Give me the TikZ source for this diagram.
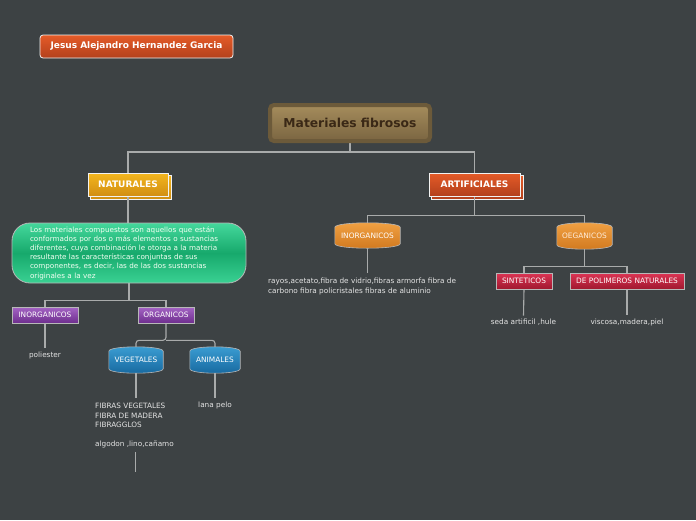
\documentclass[tikz,border=0pt]{standalone}
\usepackage{fontspec}
\setmainfont{DejaVu Sans}
\usetikzlibrary{calc,backgrounds}
\definecolor{bg}{HTML}{3D4244}
\definecolor{wire}{HTML}{A9ABAB}
\definecolor{edge}{HTML}{B8B8B8}
\definecolor{txt}{HTML}{E4E4E4}
\definecolor{redT}{HTML}{E55B28}
\definecolor{redB}{HTML}{B3401C}
\definecolor{brOut}{HTML}{6C5A3A}
\definecolor{brT}{HTML}{A58C5C}
\definecolor{brB}{HTML}{7A6541}
\definecolor{brTxt}{HTML}{3A2816}
\definecolor{goldT}{HTML}{F4B61E}
\definecolor{goldB}{HTML}{D18E12}
\definecolor{grT}{HTML}{44D89C}
\definecolor{grM}{HTML}{17A96C}
\definecolor{grB}{HTML}{3AD193}
\definecolor{puT}{HTML}{A464C4}
\definecolor{puB}{HTML}{6E2E8E}
\definecolor{blT}{HTML}{3C9FD4}
\definecolor{blB}{HTML}{16679E}
\definecolor{orT}{HTML}{F2A244}
\definecolor{orB}{HTML}{D0781E}
\definecolor{crT}{HTML}{DC3454}
\definecolor{crB}{HTML}{A0182F}
\newcommand\barrelshape[3]{%
  \begin{scope}[on background layer]
  \path[draw=edge, line width=0.6pt, top color=#2, bottom color=#3]
    ($(#1.north west)+(0,-4.5pt)$) .. controls ($(#1.north west)+(0,1.5pt)$) and ($(#1.north east)+(0,1.5pt)$) .. ($(#1.north east)+(0,-4.5pt)$)
    -- ($(#1.south east)+(0,4.5pt)$) .. controls ($(#1.south east)+(0,-1.5pt)$) and ($(#1.south west)+(0,-1.5pt)$) .. ($(#1.south west)+(0,4.5pt)$) -- cycle;
  \end{scope}}
\newcommand\shadowbox[3]{%
  \begin{scope}[on background layer]
  \path[draw=white!90!gray, line width=0.7pt, top color=#2, bottom color=#3]
    ($(#1.north west)+(2.5pt,-2.5pt)$) rectangle ($(#1.south east)+(2.5pt,-2.5pt)$);
  \end{scope}}
\begin{document}
\begin{tikzpicture}[x=1pt,y=-1pt,
  wirestyle/.style={draw=wire, line width=1.1pt},
  bigbox/.style={draw=white!90!gray, line width=0.8pt, text=white, font=\bfseries\fontsize{9}{10}\selectfont, inner sep=0pt},
  smallbox/.style={draw=edge, line width=0.6pt, text=white, font=\fontsize{7.4}{8}\selectfont, inner sep=0pt, minimum height=16pt},
  barrel/.style={text=white, font=\fontsize{7.4}{8}\selectfont, inner sep=0pt},
  plain/.style={text=txt, font=\fontsize{7.3}{9.6}\selectfont, inner sep=3pt, align=left}
]
\begin{scope}[on background layer]
\fill[bg] (0,0) rectangle (696,520);
\end{scope}
\useasboundingbox (0,0) rectangle (696,520);

% title nodes
\node[bigbox, rounded corners=3pt, top color=redT, bottom color=redB, minimum width=193pt, minimum height=23pt] (author) at (136.5,46.5) {Jesus Alejandro Hernandez Garcia};
\node[draw=brOut, line width=4pt, rounded corners=4pt, top color=brT, bottom color=brB, text=brTxt, font=\bfseries\fontsize{12.3}{14}\selectfont, minimum width=160pt, minimum height=36pt] (main) at (350,123) {Materiales fibrosos};

\node[bigbox, top color=goldT, bottom color=goldB, minimum width=80pt, minimum height=23pt] (nat) at (128,184.5) {NATURALES};
\shadowbox{nat}{goldT}{goldB}
\node[bigbox, top color=redT, bottom color=redB, minimum width=91pt, minimum height=23pt] (art) at (474.5,184.5) {ARTIFICIALES};
\shadowbox{art}{redT}{redB}

% left branch
\node[draw=edge, line width=0.8pt, rounded corners=18pt, top color=grT, bottom color=grB, middle color=grM, text=white!95!green, font=\fontsize{7.2}{9.2}\selectfont, align=left, text width=198pt, minimum width=234pt, minimum height=60pt, inner sep=0pt] (comp) at (129,253) {Los materiales compuestos son aquellos que están\\conformados por dos o más elementos o sustancias\\diferentes, cuya combinación le otorga a la materia\\resultante las características conjuntas de sus\\componentes, es decir, las de las dos sustancias\\originales a la vez};

\node[smallbox, top color=puT, bottom color=puB, minimum width=66pt] (inorgA) at (45,315) {INORGANICOS};
\node[smallbox, top color=puT, bottom color=puB, minimum width=56pt] (orgA) at (166,315) {ORGANICOS};
\node[plain] (poli) at (45,355) {poliester};

\node[barrel, minimum width=54pt, minimum height=26pt] (veg) at (136,360) {VEGETALES};
\barrelshape{veg}{blT}{blB}
\node[barrel, minimum width=50pt, minimum height=26pt] (ani) at (215,360) {ANIMALES};
\barrelshape{ani}{blT}{blB}

\node[plain, anchor=north west, inner sep=0pt] (vegtxt) at (95,403) {FIBRAS VEGETALES\\FIBRA DE MADERA\\FIBRAGGLOS\\[9pt]algodon ,lino,cañamo};
\node[plain] (lana) at (215,405) {lana pelo};
\coordinate (vegend) at (135.5,472);
\coordinate (vegtop) at (135.5,398);

% right branch
\node[barrel, minimum width=65pt, minimum height=25pt] (inorgB) at (367.5,235.5) {INORGANICOS};
\barrelshape{inorgB}{orT}{orB}
\node[barrel, minimum width=55pt, minimum height=26pt, text=white!85!orange] (oeg) at (584.5,236) {OEGANICOS};
\barrelshape{oeg}{orT}{orB}
\node[plain, anchor=north west, inner sep=0pt] (rayos) at (268,278) {rayos,acetato,fibra de vidrio,fibras armorfa fibra de\\carbono fibra policristales fibras de aluminio};
\coordinate (rayostop) at (367.5,273);

\node[smallbox, top color=crT, bottom color=crB, minimum width=56pt] (sint) at (524,281) {SINTETICOS};
\node[smallbox, top color=crT, bottom color=crB, minimum width=114pt] (polin) at (627,281) {DE POLIMEROS NATURALES};
\node[plain] (seda) at (523.5,322) {seda artificil ,hule};
\node[plain] (visc) at (627,322) {viscosa,madera,piel};

% connectors
\begin{scope}[on background layer]
\draw[wirestyle] (main.south) -- ($(main.south)+(0,9)$) -| (nat.north);
\draw[wirestyle] ($(main.south)+(0,9)$) -| (art.north);
\draw[wirestyle] (nat.south) -- (nat.south |- comp.north);
\draw[wirestyle] (comp.south) -- ($(comp.south)+(0,17)$) -| (inorgA.north);
\draw[wirestyle] ($(comp.south)+(0,17)$) -| (orgA.north);
\draw[wirestyle] (inorgA.south) -- (poli.north);
\draw[wirestyle, rounded corners=3pt] (orgA.south) -- ($(orgA.south)+(0,17)$) -| (veg.north);
\draw[wirestyle, rounded corners=3pt] ($(orgA.south)+(0,17)$) -| (ani.north);
\draw[wirestyle] (veg.south) -- (veg.south |- vegtop);
\draw[wirestyle] (ani.south) -- (lana.north);
\draw[wirestyle] (vegend |- vegtxt.south) ++(0,4) -- (vegend);
\draw[wirestyle] (art.south) -- ($(art.south)+(0,19)$) -| (inorgB.north);
\draw[wirestyle] ($(art.south)+(0,19)$) -| (oeg.north);
\draw[wirestyle] (inorgB.south) -- (rayostop);
\draw[wirestyle] (oeg.south) -- ($(oeg.south)+(0,17)$) -| (sint.north);
\draw[wirestyle] ($(oeg.south)+(0,17)$) -| (polin.north);
\draw[wirestyle] (sint.south) -- (seda.north);
\draw[wirestyle] (polin.south) -- (visc.north);
\end{scope}
\end{tikzpicture}
\end{document}
